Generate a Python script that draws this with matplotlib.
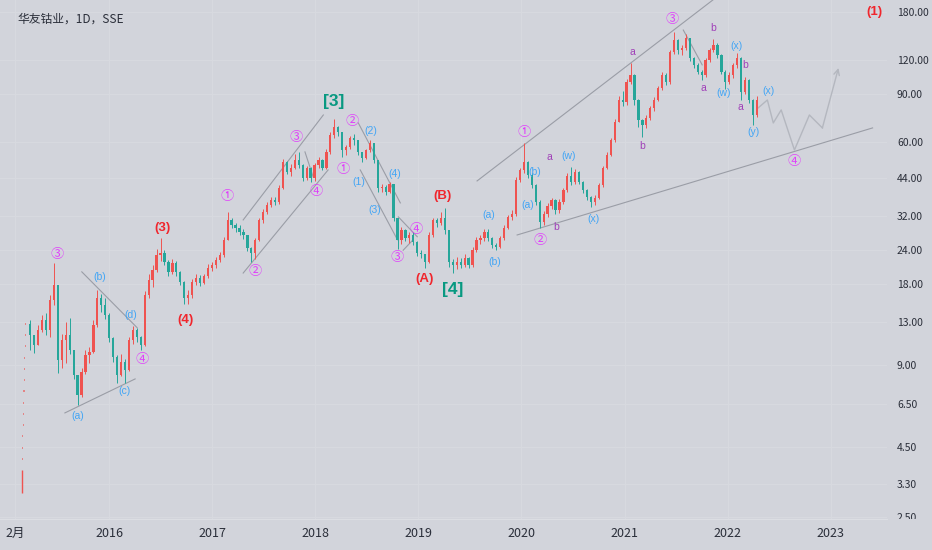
import numpy as np
import pandas as pd
import matplotlib
matplotlib.use('Agg')
import matplotlib.pyplot as plt
import matplotlib.dates as mdates
from matplotlib.transforms import Bbox, TransformedBbox

# ---------------- data ----------------
# listing day and the limit-up days that followed
ipo_date = '2015-02-26'
ipo_open = 3.06
ipo_close = 3.71
limit_up = [4.08, 4.49, 4.94, 5.43, 5.97, 6.57, 7.23, 7.95, 8.75, 9.62, 10.58, 11.64, 12.80]

# two-week candles from 2015-03-27 to 2022-04
first_open = 12.8
closes = [11.7, 10.7, 12.2, 13.2, 12.2, 15.7, 17.8, 9.43, 11.2, 11.7,
          10.3, 8.30, 7.01, 8.5, 9.85, 10.1, 12.7, 15.9, 15.0, 13.8,
          11.4, 9.7, 8.3, 9.3, 8.66, 11.2, 12.2, 11.5, 10.7, 16.4,
          18.6, 20.2, 22.9, 23.4, 21.6, 19.9, 21.5, 19.8, 18.3, 15.9,
          16.4, 18.3, 18.9, 18.1, 19.2, 20.6, 21.0, 22.0, 22.9, 26.1,
          30.9, 29.6, 28.9, 28.0, 27.2, 24.4, 23.4, 26.1, 30.9, 33.0,
          35.1, 36.6, 36.0, 40.5, 50.5, 46.4, 48.1, 51.4, 49.2, 44.0,
          48.1, 44.0, 49.2, 51.4, 48.1, 55.0, 63.5, 67.7, 65.1, 55.9,
          57.2, 61.8, 60.8, 55.0, 52.3, 55.9, 59.3, 51.4, 40.5, 40.8,
          39.2, 41.8, 31.4, 26.1, 28.4, 26.5, 27.2, 25.7, 23.4, 23.1,
          21.6, 27.2, 30.9, 30.1, 31.4, 28.4, 21.6, 21.1, 21.6, 21.0,
          22.4, 21.1, 23.9, 26.1, 26.5, 28.0, 26.5, 25.0, 24.6, 26.5,
          28.9, 31.6, 32.5, 43.3, 47.2, 50.5, 45.2, 41.5, 36.0, 30.4,
          32.5, 34.8, 36.6, 33.6, 36.0, 39.8, 44.8, 42.6, 46.4, 42.6,
          39.8, 37.6, 36.0, 37.3, 41.5, 48.1, 53.6, 60.8, 70.9, 85.4,
          84.0, 99.5, 105.6, 85.4, 72.1, 69.1, 73.3, 79.8, 85.4, 94.5,
          105.6, 99.5, 128.3, 142.0, 130.5, 132.7, 144.4, 121.9, 115.0, 108.3,
          105.6, 119.9, 130.5, 136.2, 125.1, 108.3, 99.5, 105.6, 115.0, 121.9,
          91.3, 101.2, 85.4, 75.2, 85.4]
highs = [13.2, 11.7, 12.7, 13.8, 14.0, 16.4, 21.5, 16.5, 11.8, 13.0,
         13.5, 10.0, 8.2, 8.8, 10.3, 10.5, 13.2, 17.1, 16.5, 16.0,
         14.0, 11.5, 9.8, 9.9, 9.5, 11.5, 12.6, 12.4, 11.6, 16.9,
         19.5, 21.0, 24.2, 26.4, 24.0, 22.0, 22.2, 21.8, 20.0, 18.4,
         17.0, 18.8, 19.5, 19.3, 19.6, 21.2, 21.6, 22.6, 23.5, 26.8,
         33.0, 31.5, 30.2, 29.5, 28.5, 27.0, 24.5, 26.6, 31.5, 34.0,
         36.0, 37.5, 37.6, 41.5, 52.0, 51.0, 49.5, 54.0, 55.0, 49.5,
         49.0, 48.5, 50.0, 52.5, 52.0, 56.5, 65.0, 72.5, 68.5, 64.0,
         58.5, 63.0, 64.0, 59.0, 55.0, 56.5, 61.0, 59.0, 50.0, 42.0,
         41.5, 42.5, 41.0, 31.0, 29.2, 28.5, 28.0, 27.8, 25.8, 23.9,
         23.2, 27.8, 31.5, 31.5, 33.0, 34.2, 28.0, 22.2, 22.5, 22.4,
         23.2, 22.6, 24.6, 26.8, 27.3, 28.6, 28.5, 26.8, 25.4, 27.0,
         29.5, 32.3, 33.5, 44.5, 48.0, 59.3, 51.0, 46.0, 42.0, 36.5,
         33.2, 35.6, 37.3, 37.0, 36.8, 40.5, 46.0, 48.4, 47.5, 46.8,
         43.0, 40.2, 38.0, 38.2, 42.2, 49.0, 54.8, 62.0, 72.5, 88.0,
         92.0, 102.0, 116.8, 106.0, 86.0, 72.5, 75.0, 81.0, 87.5, 96.5,
         108.0, 107.0, 131.0, 152.0, 143.0, 136.0, 150.0, 145.0, 123.0, 117.0,
         110.0, 122.0, 133.0, 143.0, 138.0, 126.0, 110.0, 108.0, 117.0, 127.0,
         123.0, 104.0, 102.0, 86.0, 88.0]
lows = [10.3, 10.0, 10.9, 12.0, 11.7, 11.5, 15.0, 8.45, 8.8, 9.2,
        9.9, 8.0, 6.44, 6.9, 8.4, 9.2, 10.0, 12.5, 14.2, 13.3,
        11.0, 9.3, 7.76, 8.2, 7.76, 8.6, 10.8, 11.0, 10.3, 10.6,
        16.0, 17.5, 19.8, 21.8, 21.0, 19.2, 19.5, 19.2, 17.8, 15.1,
        15.1, 16.0, 17.8, 17.6, 17.9, 18.9, 20.0, 20.6, 21.6, 22.5,
        26.0, 28.8, 28.0, 27.2, 26.3, 23.7, 21.6, 22.2, 25.8, 30.2,
        32.5, 34.5, 35.0, 35.5, 40.0, 45.5, 45.0, 47.5, 48.0, 42.8,
        43.5, 42.5, 43.0, 48.0, 47.0, 47.5, 54.0, 62.0, 63.0, 52.5,
        53.5, 56.5, 58.5, 53.5, 50.5, 52.0, 55.0, 50.0, 39.0, 39.2,
        38.3, 38.8, 30.5, 24.2, 25.2, 25.8, 25.5, 25.0, 22.8, 22.4,
        20.6, 21.4, 26.8, 29.2, 29.5, 27.5, 20.8, 19.7, 20.3, 20.5,
        20.8, 20.6, 20.8, 23.5, 25.3, 25.8, 25.9, 24.4, 23.9, 24.3,
        26.0, 28.5, 30.8, 32.0, 42.5, 46.0, 44.0, 40.5, 35.2, 28.9,
        29.6, 31.8, 33.8, 32.6, 32.8, 35.3, 39.0, 41.5, 42.0, 41.8,
        38.8, 36.5, 34.6, 35.0, 36.8, 41.0, 47.5, 53.0, 60.0, 72.0,
        81.0, 82.0, 98.0, 82.0, 68.0, 62.4, 67.5, 72.0, 78.0, 84.5,
        93.0, 97.0, 98.0, 126.0, 126.0, 125.0, 130.0, 119.0, 112.0, 106.0,
        101.2, 104.0, 118.0, 128.0, 122.0, 106.0, 94.0, 98.0, 103.0, 112.0,
        85.4, 90.0, 83.0, 69.0, 74.0]

price_ticks = [180, 120, 90, 60, 44, 32, 24, 18, 13, 9, 6.5, 4.5, 3.3, 2.5]
time_ticks = ['2015-02-01', '2016-01-01', '2017-01-01', '2018-01-01', '2019-01-01',
              '2020-01-01', '2021-01-01', '2022-01-01', '2023-01-01']
time_labels = ['2月', '2016', '2017', '2018', '2019', '2020', '2021', '2022', '2023']

# elliott wave labels: text, date, price, style
waves = [
    ('③', '2015-06-30', 23.1, 'circ'), ('(b)', '2015-11-29', 19.1, 'blue'),
    ('(d)', '2016-03-18', 13.8, 'blue'), ('④', '2016-04-27', 9.43, 'circ'),
    ('(a)', '2015-09-13', 5.87, 'blue'), ('(c)', '2016-02-23', 7.25, 'blue'),
    ('(3)', '2016-07-07', 28.9, 'red'), ('(4)', '2016-09-27', 13.2, 'red'),
    ('①', '2017-02-23', 37.6, 'circ'), ('②', '2017-06-02', 19.9, 'circ'),
    ('③', '2017-10-25', 62.4, 'circ'), ('④', '2018-01-04', 39.2, 'circ'),
    ('[3]', '2018-03-08', 84.0, 'teal'), ('②', '2018-05-11', 70.9, 'circ'),
    ('①', '2018-04-10', 47.2, 'circ'), ('(2)', '2018-07-17', 65.7, 'blue'),
    ('(1)', '2018-06-05', 42.6, 'blue'), ('(4)', '2018-10-08', 45.6, 'blue'),
    ('(3)', '2018-08-01', 33.6, 'blue'), ('④', '2018-12-24', 28.6, 'circ'),
    ('③', '2018-10-19', 22.4, 'circ'), ('(B)', '2019-03-26', 37.9, 'red'),
    ('(A)', '2019-01-22', 18.7, 'red'), ('[4]', '2019-05-01', 17.2, 'teal'),
    ('(a)', '2019-09-06', 32.2, 'blue'), ('(b)', '2019-09-27', 21.6, 'blue'),
    ('①', '2020-01-11', 65.1, 'circ'), ('(b)', '2020-02-19', 46.4, 'blue'),
    ('(a)', '2020-01-25', 35.1, 'blue'), ('a', '2020-04-10', 52.7, 'purple'),
    ('②', '2020-03-08', 25.9, 'circ'), ('b', '2020-05-05', 29.1, 'purple'),
    ('(w)', '2020-06-17', 53.2, 'blue'), ('(x)', '2020-09-13', 31.2, 'blue'),
    ('a', '2021-01-29', 128.3, 'purple'), ('b', '2021-03-05', 57.8, 'purple'),
    ('③', '2021-06-17', 168.3, 'circ'), ('b', '2021-11-12', 157.3, 'purple'),
    ('a', '2021-10-07', 94.5, 'purple'), ('(x)', '2022-02-01', 134.9, 'blue'),
    ('(w)', '2021-12-17', 90.6, 'blue'), ('b', '2022-03-05', 115.0, 'purple'),
    ('a', '2022-02-15', 80.5, 'purple'), ('(x)', '2022-05-26', 92.2, 'blue'),
    ('(y)', '2022-04-02', 65.1, 'blue'), ('④', '2022-08-26', 50.5, 'circ'),
    ('(1)', '2023-06-06', 180.0, 'red'),
]

# trend lines drawn on the chart: (date, price) -> (date, price)
trend_lines = [
    (('2015-07-28', 6.02), ('2016-04-02', 8.03)),
    (('2015-09-26', 19.9), ('2016-04-09', 12.4)),
    (('2017-04-20', 30.9), ('2018-01-29', 75.2)),
    (('2017-04-20', 19.7), ('2018-02-15', 47.2)),
    (('2017-11-25', 55.0), ('2017-12-24', 44.5)),
    (('2018-06-02', 70.3), ('2018-10-29', 35.7)),
    (('2018-06-09', 47.2), ('2018-10-19', 26.1)),
    (('2018-10-22', 31.7), ('2018-12-28', 26.8)),
    (('2018-11-08', 23.9), ('2018-12-13', 26.1)),
    (('2019-07-28', 43.0), ('2021-12-21', 215.0)),
    (('2019-12-17', 27.2), ('2023-05-30', 67.4)),
    (('2021-07-28', 154.5), ('2021-10-03', 115.0)),
]

# projected path after the last bar
proj_dates = ['2022-04-19', '2022-05-22', '2022-06-12', '2022-07-10', '2022-08-26',
              '2022-10-18', '2022-12-03', '2023-01-29']
proj_prices = [79.8, 85.4, 70.3, 78.5, 55.9, 75.2, 67.4, 112.0]

# ---------------- styling ----------------
BG = '#d2d4db'
UP = '#ef5350'
DOWN = '#26a69a'
LINE = '#9a9da6'
CJK = 'Noto Sans CJK SC'

styles = {
    'circ': dict(color='#e040fb', fontsize=9.5, family=[CJK, 'DejaVu Sans']),
    'blue': dict(color='#42a5f5', fontsize=7.5, family=['Liberation Sans']),
    'red': dict(color='#f0262d', fontsize=9.5, family=['Liberation Sans'], fontweight='bold'),
    'teal': dict(color='#089981', fontsize=12.5, family=['Liberation Sans'], fontweight='bold'),
    'purple': dict(color='#a040b8', fontsize=7.5, family=['Liberation Sans']),
}


def dnum(d):
    return mdates.date2num(pd.Timestamp(d).to_pydatetime())


fig = plt.figure(figsize=(9.32, 5.5), dpi=100)
fig.patch.set_facecolor(BG)
ax = fig.add_axes([0, 0.0564, 0.952, 0.9436])
ax.set_facecolor(BG)
ax.set_yscale('log')

# candles
dates = pd.date_range('2015-03-27', periods=len(closes), freq='14D')
x = mdates.date2num(dates.to_pydatetime())
c = np.array(closes)
o = np.array([first_open] + closes[:-1])
h = np.maximum(np.array(highs), np.maximum(o, c))
l = np.minimum(np.array(lows), np.minimum(o, c))
cols = np.where(c >= o, UP, DOWN)
ax.vlines(x, l, h, colors=cols, linewidth=0.7, zorder=3)
ax.bar(x, np.abs(c - o), bottom=np.minimum(o, c), width=8, color=cols,
       linewidth=0, zorder=3)

# listing day and limit-up run
ax.vlines(dnum(ipo_date), ipo_open, ipo_close, colors=UP, linewidth=1, zorder=3)
lu_x = mdates.date2num(pd.date_range('2015-02-27', periods=len(limit_up), freq='D').to_pydatetime())
ax.hlines(limit_up, lu_x - 2, lu_x + 2, colors=UP, linewidth=1.1, alpha=0.8, zorder=3)

# trend lines
for (d1, p1), (d2, p2) in trend_lines:
    ax.plot([dnum(d1), dnum(d2)], [p1, p2], color=LINE, lw=0.8, zorder=2)

# projection
px = [dnum(d) for d in proj_dates]
ax.plot(px[:-1], proj_prices[:-1], color='#b4b7bf', lw=1, zorder=2)
ax.annotate('', xy=(px[-1], proj_prices[-1]), xytext=(px[-2], proj_prices[-2]),
            arrowprops=dict(arrowstyle='->', color='#b4b7bf', lw=1,
                            shrinkA=0, shrinkB=0, mutation_scale=10), zorder=2)

# wave labels
for txt, d, p, st in waves:
    ax.text(dnum(d), p, txt, ha='center', va='center', zorder=4, **styles[st])

# axes
ax.set_xlim(dnum('2014-12-10'), dnum('2023-07-21'))
ax.set_ylim(2.45, 199.3)
ax.yaxis.set_minor_locator(matplotlib.ticker.NullLocator())
ax.set_yticks(price_ticks)
ax.set_yticklabels([f'{v:.2f}' for v in price_ticks])
ax.yaxis.tick_right()
ax.set_xticks([dnum(d) for d in time_ticks])
ax.set_xticklabels(time_labels)
ax.tick_params(axis='y', length=0, pad=7, labelsize=7.5, labelcolor='#2a2e39')
ax.tick_params(axis='x', length=0, pad=6, labelsize=9, labelcolor='#2a2e39')
for lbl in ax.get_yticklabels() + ax.get_xticklabels():
    lbl.set_family([CJK, 'DejaVu Sans'])
ax.grid(True, color='#d7d9df', lw=0.8, zorder=0)
for s in ['top', 'right', 'left']:
    ax.spines[s].set_visible(False)
ax.spines['bottom'].set_color('#dcdee3')

# clip the lowest price label at the time axis like the reference
clip = TransformedBbox(Bbox([[0, 0.0564], [1, 1]]), fig.transFigure)
for lbl in ax.get_yticklabels():
    lbl.set_clip_box(clip)
    lbl.set_clip_on(True)

fig.text(17 / 932, 1 - 19 / 550, '华友钴业，1D，SSE', va='center', ha='left',
         fontsize=8.5, color='#2a2e39', family=[CJK, 'DejaVu Sans'])

fig.savefig('out.png', dpi=100, facecolor=BG)
